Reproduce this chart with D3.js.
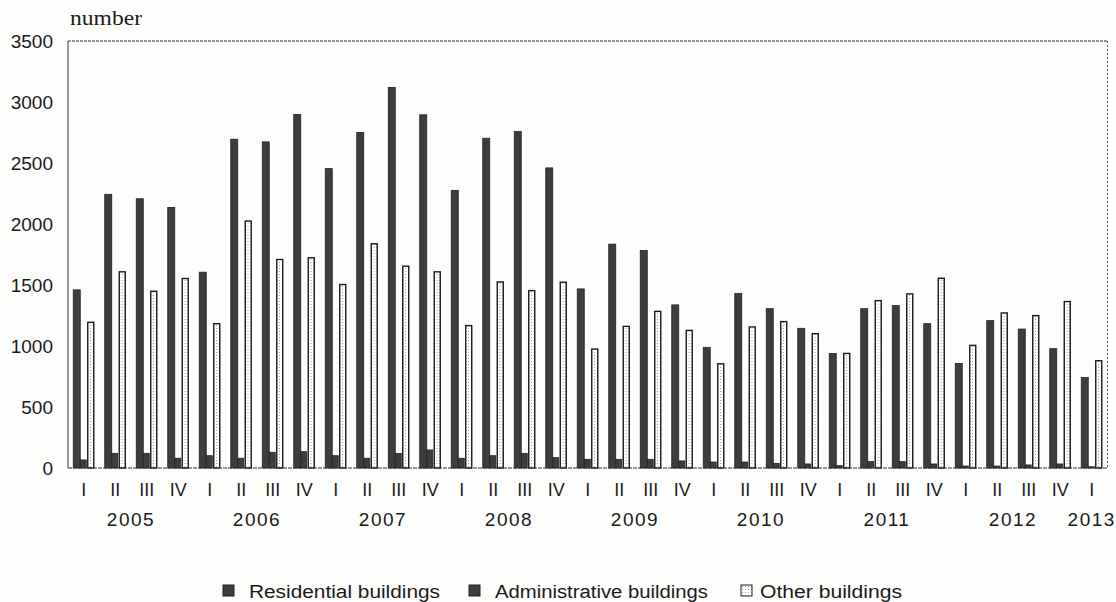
<!DOCTYPE html>
<html>
<head>
<meta charset="utf-8">
<script src="https://cdn.jsdelivr.net/npm/d3@7"></script>
<style>
  html, body { margin: 0; padding: 0; background: #fdfdfb; }
  svg { display: block; }
  text { font-family: "Liberation Sans", Arial, sans-serif; fill: #1a1a1a; }
</style>
</head>
<body>
<svg id="chart" width="1116" height="602"></svg>
<script>
const quarterLabels = ["I","II","III","IV","I","II","III","IV","I","II","III","IV","I","II","III","IV","I","II","III","IV","I","II","III","IV","I","II","III","IV","I","II","III","IV","I"];
const years = ["2005","2006","2007","2008","2009","2010","2011","2012","2013"];
const yearStartIndex = [0, 4, 8, 12, 16, 20, 24, 28, 32];
const yTicks = [0, 500, 1000, 1500, 2000, 2500, 3000, 3500];
const seriesNames = ["Residential buildings", "Administrative buildings", "Other buildings"];

const residential = [1460, 2243, 2207, 2136, 1605, 2695, 2673, 2898, 2454, 2750, 3120, 2895, 2276, 2703, 2758, 2460, 1468, 1835, 1783, 1337, 989, 1430, 1306, 1145, 939, 1306, 1331, 1183, 857, 1208, 1139, 978, 742];
const administrative = [66, 120, 120, 80, 101, 80, 129, 134, 101, 80, 120, 148, 80, 101, 120, 85, 71, 71, 71, 58, 49, 49, 38, 33, 19, 52, 52, 33, 16, 16, 25, 33, 10];
const other = [1194, 1608, 1449, 1553, 1183, 2024, 1709, 1723, 1504, 1838, 1654, 1608, 1167, 1525, 1454, 1523, 975, 1161, 1284, 1128, 854, 1156, 1200, 1101, 939, 1372, 1427, 1555, 1005, 1271, 1249, 1364, 879];

const svg = d3.select("#chart");
const pLeft = 68, pRight = 1107.5, pTop = 41, pBottom = 468;

const defs = svg.append("defs");
const pat = defs.append("pattern").attr("id", "dots").attr("patternUnits", "userSpaceOnUse")
  .attr("width", 3).attr("height", 3);
pat.append("rect").attr("width", 3).attr("height", 3).attr("fill", "#ffffff");
pat.append("rect").attr("x", 1).attr("y", 1).attr("width", 1).attr("height", 1).attr("fill", "#9a9a9a");

const idx = d3.range(quarterLabels.length);
const x = d3.scaleBand().domain(idx).range([pLeft, pRight]).paddingInner(0).paddingOuter(0);
const keys = ["res", "adm", "oth"];
const xSub = d3.scaleBand().domain(keys).range([0, x.bandwidth()]).paddingInner(0).paddingOuter(0.75);
const y = d3.scaleLinear().domain([0, 3500]).range([pBottom, pTop]);

const rows = idx.map(i => ({ i, res: residential[i], adm: administrative[i], oth: other[i] }));

// frame
svg.append("line").attr("x1", pLeft).attr("x2", pRight).attr("y1", pTop).attr("y2", pTop)
  .attr("stroke", "#333").attr("stroke-width", 1.2).attr("stroke-dasharray", "3,1");
svg.append("line").attr("x1", pRight).attr("x2", pRight).attr("y1", pTop).attr("y2", pBottom)
  .attr("stroke", "#555").attr("stroke-width", 1).attr("stroke-dasharray", "2,2");
svg.append("line").attr("x1", pLeft).attr("x2", pLeft).attr("y1", pTop).attr("y2", pBottom)
  .attr("stroke", "#333").attr("stroke-width", 1);

// y axis labels
const yAxis = d3.axisLeft(y).tickValues(yTicks).tickFormat(d3.format("d")).tickSize(0).tickPadding(15);
const gy = svg.append("g").attr("transform", `translate(${pLeft},0)`).call(yAxis);
gy.select(".domain").remove();
gy.selectAll("text").style("font-size", "19px").style("font-family", "'Liberation Sans', Arial, sans-serif").attr("fill", "#1a1a1a");

// bars
const groups = svg.append("g").selectAll("g").data(rows).join("g")
  .attr("transform", d => `translate(${x(d.i)},0)`);

groups.append("rect")
  .attr("x", xSub("res")).attr("width", xSub.bandwidth())
  .attr("y", d => y(d.res)).attr("height", d => y(0) - y(d.res))
  .attr("fill", "#3d3d3d").attr("stroke", "#222").attr("stroke-width", 0.8);
groups.append("rect")
  .attr("x", xSub("adm")).attr("width", xSub.bandwidth() - 1)
  .attr("y", d => y(d.adm)).attr("height", d => y(0) - y(d.adm))
  .attr("fill", "#3d3d3d").attr("stroke", "#222").attr("stroke-width", 0.8);
groups.append("rect")
  .attr("x", xSub("oth") + 0.5).attr("width", xSub.bandwidth() - 1)
  .attr("y", d => y(d.oth)).attr("height", d => y(0) - y(d.oth))
  .attr("fill", "url(#dots)").attr("stroke", "#1a1a1a").attr("stroke-width", 1.4);

// baseline
svg.append("line").attr("x1", pLeft).attr("x2", pRight).attr("y1", pBottom).attr("y2", pBottom)
  .attr("stroke", "#333").attr("stroke-width", 1.2).attr("stroke-dasharray", "4,1");

// quarter labels
const xAxis = d3.axisBottom(x).tickFormat(i => quarterLabels[i]).tickSize(0).tickPadding(15);
const gx = svg.append("g").attr("transform", `translate(0,${pBottom})`).call(xAxis);
gx.select(".domain").remove();
gx.selectAll("text").style("font-size", "18px").style("font-family", "'Liberation Sans', Arial, sans-serif").attr("fill", "#1a1a1a");

// year labels
svg.append("g").selectAll("text").data(years).join("text")
  .attr("x", (d, k) => {
    const s = yearStartIndex[k];
    const e = Math.min(s + 3, quarterLabels.length - 1);
    return (x(s) + x(e) + x.bandwidth()) / 2;
  })
  .attr("y", 526).attr("text-anchor", "middle").style("font-size", "19px").style("letter-spacing", "1.5px")
  .text(d => d);

// unit
svg.append("text").attr("x", 70).attr("y", 25).style("font-family", "'Liberation Serif', 'Times New Roman', serif")
  .style("font-size", "22px").attr("textLength", 72).attr("lengthAdjust", "spacingAndGlyphs").text("number");

// legend
const legendItems = [
  { name: seriesNames[0], sx: 223, tx: 249, tw: 191, fill: "#3d3d3d" },
  { name: seriesNames[1], sx: 469, tx: 495, tw: 213, fill: "#3d3d3d" },
  { name: seriesNames[2], sx: 741, tx: 760, tw: 142, fill: "url(#dots)" }
];
const lg = svg.append("g").selectAll("g").data(legendItems).join("g");
lg.append("rect").attr("x", d => d.sx).attr("y", 585).attr("width", 11).attr("height", 11)
  .attr("fill", d => d.fill).attr("stroke", "#222").attr("stroke-width", 1);
lg.append("text").attr("x", d => d.tx).attr("y", 598).style("font-size", "18px")
  .attr("textLength", d => d.tw).attr("lengthAdjust", "spacingAndGlyphs").text(d => d.name);
</script>
</body>
</html>
